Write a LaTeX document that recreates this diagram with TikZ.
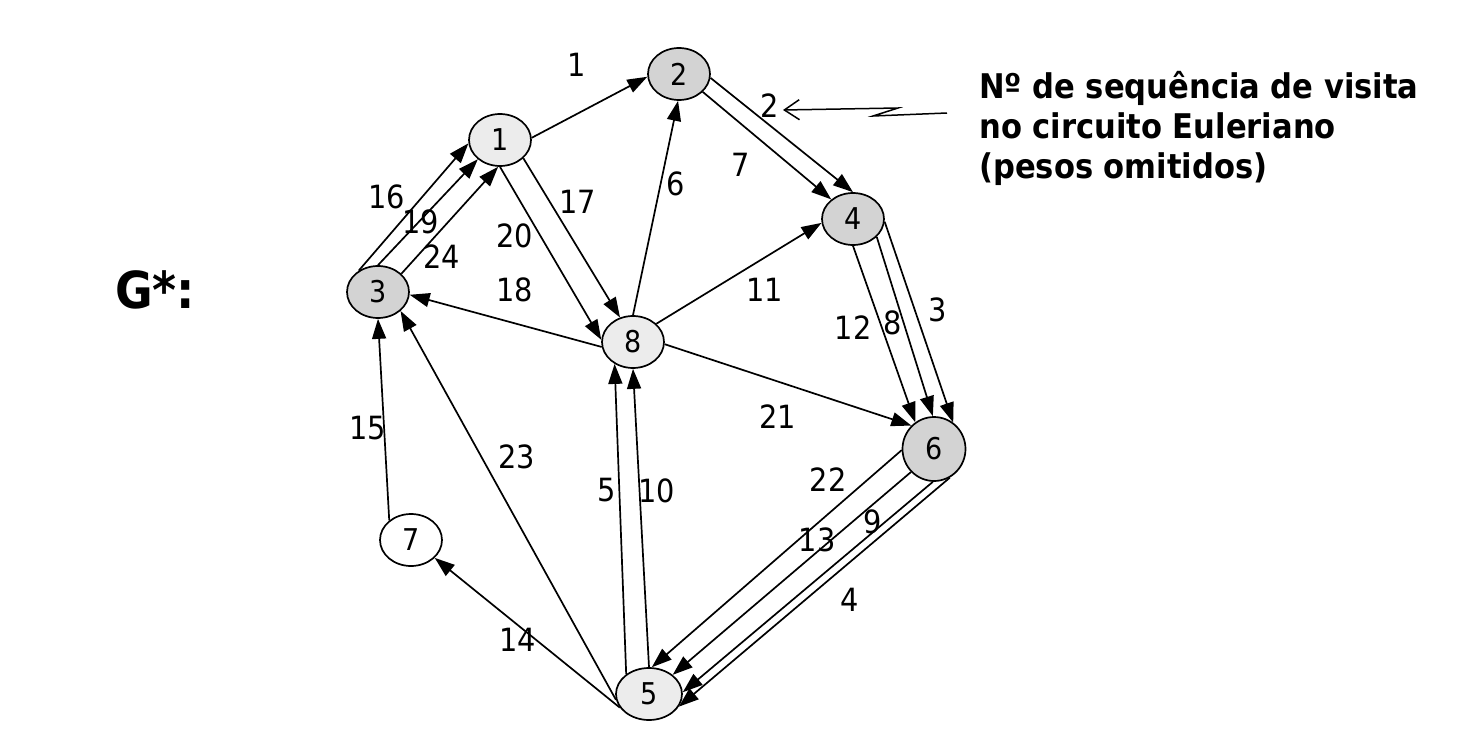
\documentclass[tikz,border=0pt]{standalone}
\usepackage{fontspec}
\setmainfont{DejaVu Sans Condensed}
\usetikzlibrary{arrows.meta,shapes.geometric}
\definecolor{gdark}{HTML}{D3D3D3}
\definecolor{glight}{HTML}{ECECEC}
\begin{document}
\begin{tikzpicture}[x=1pt,y=-1pt,
  vtx/.style={draw, line width=1.7pt, ellipse, minimum width=62pt, minimum height=52pt, inner sep=0pt, font=\fontsize{30}{30}\selectfont},
  dk/.style={vtx, fill=gdark},
  lt/.style={vtx, fill=glight},
  wt/.style={vtx, fill=white},
  arr/.style={-{Triangle[length=20pt,width=14pt]}, line width=1.7pt},
  lbl/.style={font=\fontsize{32}{32}\selectfont, inner sep=0pt}]
\useasboundingbox (0,0) rectangle (1457,736);
% vertices
\node[lt] (n1) at (500,140) {1};
\node[dk] (n2) at (679,74) {2};
\node[dk] (n3) at (378,292) {3};
\node[dk] (n4) at (853,219) {4};
\node[lt, minimum width=66pt] (n5) at (649,694) {5};
\node[dk, minimum width=63pt, minimum height=64pt] (n6) at (934,449) {6};
\node[wt] (n7) at (411,540) {7};
\node[lt] (n8) at (633,342) {8};
% edges
\draw[arr] (n3.132) -- (n1.186);
\draw[arr] (n3.90) -- (n1.221);
\draw[arr] (n3.38) -- (n1.266);
\draw[arr] (n1.4) -- (n2.185);
\draw[arr] (n1.270) -- (n8.176);
\draw[arr] (n1.322) -- (n8.118);
\draw[arr] (n8.90) -- (n2.268);
\draw[arr] (n8.38) -- (n4.187);
\draw[arr] (n8.189) -- (n3.355);
\draw[arr] (n8.356) -- (n6.134);
\draw[arr] (n2.353) -- (n4.90);
\draw[arr] (n2.323) -- (n4.138);
\draw[arr] (n4.270) -- (n6.125);
\draw[arr] (n4.323) -- (n6.92);
\draw[arr] (n4.355) -- (n6.54);
\draw[arr] (n6.182) -- (n5.84);
\draw[arr] (n6.225) -- (n5.39);
\draw[arr] (n6.268) -- (n5.3);
\draw[arr] (n6.299) -- (n5.337);
\draw[arr] (n5.139) -- (n8.230);
\draw[arr] (n5.90) -- (n8.270);
\draw[arr] (n5.205) -- (n7.323);
\draw[arr] (n5.190) -- (n3.320);
\draw[arr] (n7.138) -- (n3.270);
% edge labels
\node[lbl] (l1) at (577,65) {1};
\node[lbl] (l2) at (770,106) {2};
\node[lbl] (l7) at (741,165) {7};
\node[lbl] (l6) at (676,184) {6};
\node[lbl] (l16) at (387,197) {16};
\node[lbl] (l19) at (421,222) {19};
\node[lbl] (l24) at (442,257) {24};
\node[lbl] (l20) at (515,236) {20};
\node[lbl] (l17) at (578,202) {17};
\node[lbl] (l18) at (515,290) {18};
\node[lbl] (l11) at (765,290) {11};
\node[lbl] (l12) at (853,328) {12};
\node[lbl] (l8) at (893,323) {8};
\node[lbl] (l3) at (938,310) {3};
\node[lbl] (l21) at (778,417) {21};
\node[lbl] (l15) at (368,428) {15};
\node[lbl] (l23) at (517,457) {23};
\node[lbl] (l5) at (607,490) {5};
\node[lbl] (l10) at (657,491) {10};
\node[lbl] (l22) at (828,480) {22};
\node[lbl] (l13) at (817,540) {13};
\node[lbl] (l9) at (873,522) {9};
\node[lbl] (l4) at (850,600) {4};
\node[lbl] (l14) at (518,640) {14};
% graph name
\node[font=\fontsize{51}{51}\selectfont\bfseries, inner sep=0pt] (gname) at (155,290) {G*:};
% annotation
\node[font=\fontsize{34}{40}\selectfont\bfseries, align=left, anchor=west, inner sep=0pt] (note) at (979,128) {Nº de sequência de visita\\no circuito Euleriano\\(pesos omitidos)};
\coordinate (zs) at (947,113);
\coordinate (tip) at (783,110);
\draw[line width=1.5pt, -{Straight Barb[length=15pt,width=20pt]}] (zs) -- (873,116) -- (898,108) -- (tip);
\end{tikzpicture}
\end{document}
